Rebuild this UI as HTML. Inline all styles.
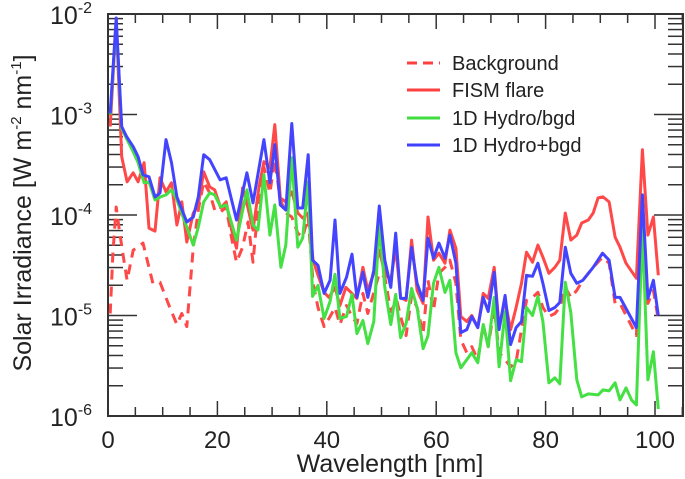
<!DOCTYPE html>
<html><head><meta charset="utf-8"><style>
html,body{margin:0;padding:0;background:#fff;}
svg{display:block;font-family:"Liberation Sans",sans-serif;}
</style></head><body>
<svg id="chart" width="685" height="479" viewBox="0 0 685 479" xmlns="http://www.w3.org/2000/svg">
<g id="axes"></g>
<g id="series"></g>
<text x="390" y="472" font-size="25" text-anchor="middle" fill="#222">Wavelength [nm]</text>
<text transform="translate(31,213) rotate(-90)" font-size="25" text-anchor="middle" fill="#222">Solar Irradiance [W m<tspan dy="-10" font-size="15">-2</tspan><tspan dy="10"> nm</tspan><tspan dy="-10" font-size="15">-1</tspan><tspan dy="10">]</tspan></text>
<g font-size="20" fill="#222">
<line x1="407" y1="63" x2="440" y2="63" stroke="#ff4040" stroke-width="3" stroke-dasharray="10,6"/>
<text x="452" y="70">Background</text>
<line x1="407" y1="90" x2="440" y2="90" stroke="#ff4040" stroke-width="3"/>
<text x="452" y="97">FISM flare</text>
<line x1="407" y1="118" x2="440" y2="118" stroke="#40dd40" stroke-width="3"/>
<text x="452" y="125">1D Hydro/bgd</text>
<line x1="407" y1="145" x2="440" y2="145" stroke="#4040ff" stroke-width="3"/>
<text x="452" y="152">1D Hydro+bgd</text>
</g>
</svg>
<script>
// wavelengths [nm] and log10 irradiance values
const bgWave=[0.4,0.9,1.5,2.0,2.7,3.5,4.6,6.4,8.2,9.5,11.3,12.6,13.5,14.4,15.6,16.5,17.5,18.6,19.5,20.6,21.6,22.6,23.5,24.6,25.6,26.5,27.6,28.5,29.6,30.5,31.5,32.5,33.6,34.7,35.6,36.6,37.5,38.4,39.5,40.6,41.5,42.4,43.6,44.6,45.5,46.6,47.5,48.6,49.6,50.6,51.7,52.8,53.5,54.5,55.5,56.5,57.6,58.5,59.5,60.5,61.6,62.5,63.6,64.5,65.6,66.5,67.6,68.6,69.5,70.6,71.5,72.6,73.6,74.6,75.6,76.5,77.6,78.6,79.5,80.6,81.7,82.6,83.6,84.6,85.7,86.8,88.7,90.4,91.6,92.7,93.6,96.6,97.7,98.7,99.7,100.6];
const bgLog=[-4.98,-4.38,-3.92,-4.12,-4.38,-4.65,-4.35,-4.28,-4.68,-4.67,-4.92,-5.09,-4.98,-5.11,-4.32,-3.95,-3.67,-3.78,-3.95,-3.97,-3.92,-4.23,-4.47,-4.32,-4.07,-4.47,-3.82,-3.52,-3.78,-3.45,-3.85,-3.98,-4.02,-4.18,-4.22,-4.02,-4.68,-4.92,-5.11,-5.01,-4.92,-5.09,-4.90,-5.01,-5.08,-4.78,-4.98,-4.77,-4.58,-4.62,-4.96,-4.85,-5.01,-5.20,-4.80,-4.92,-5.18,-4.65,-4.95,-4.58,-4.52,-4.45,-4.68,-5.24,-5.37,-5.31,-5.44,-5.09,-5.31,-4.92,-5.37,-5.44,-5.51,-5.46,-5.14,-4.85,-4.82,-4.77,-4.92,-5.01,-4.98,-4.92,-4.72,-4.82,-4.75,-4.65,-4.52,-4.42,-4.48,-4.88,-4.88,-5.20,-3.92,-4.88,-4.75,-5.04];
const fismWave=[0.4,1.5,2.5,3.5,4.6,5.5,6.6,7.5,8.6,9.5,10.6,11.6,12.6,13.5,14.4,15.6,16.5,17.5,18.6,19.5,20.6,21.6,22.6,23.5,24.6,25.6,26.5,27.6,28.5,29.6,30.5,31.5,32.5,33.6,34.7,35.6,36.6,37.5,38.4,39.5,40.4,41.5,42.4,43.5,44.6,45.5,46.6,47.5,48.6,49.6,50.6,51.7,52.6,53.5,54.5,55.5,56.5,57.6,58.5,59.5,60.5,61.6,62.5,63.6,64.5,65.6,66.5,67.6,68.6,69.5,70.6,71.5,72.6,73.6,74.6,75.6,76.5,77.6,78.6,79.5,80.6,81.7,82.6,83.6,84.6,85.7,86.6,87.8,88.7,89.6,90.5,91.6,92.7,93.6,94.7,96.6,97.7,98.7,99.7,100.6];
const fismLog=[-3.12,-2.06,-3.42,-3.67,-3.58,-3.67,-3.48,-4.13,-4.16,-3.63,-3.77,-3.68,-4.10,-3.87,-4.27,-3.98,-3.90,-3.57,-3.72,-3.75,-3.93,-3.87,-4.15,-4.33,-3.73,-3.93,-4.15,-3.72,-3.47,-3.53,-3.10,-3.83,-3.87,-3.77,-3.98,-4.03,-3.98,-4.45,-4.60,-4.77,-4.82,-4.72,-4.90,-4.72,-4.78,-4.83,-4.52,-4.75,-4.58,-4.35,-4.58,-4.65,-4.32,-4.82,-4.85,-4.25,-4.75,-4.88,-4.02,-4.45,-4.38,-4.48,-4.15,-4.33,-5.01,-5.06,-5.00,-5.12,-4.78,-4.83,-4.52,-5.12,-4.85,-5.14,-4.92,-4.68,-4.37,-4.47,-4.30,-4.42,-4.58,-4.52,-4.45,-3.98,-4.25,-4.20,-4.08,-4.05,-3.98,-3.83,-3.82,-3.87,-4.22,-4.32,-4.48,-4.63,-3.35,-4.20,-4.02,-4.60];
const ratioWave=[0.4,1.5,2.5,3.5,4.6,5.5,6.6,7.5,8.6,9.6,10.6,11.6,12.6,14.4,15.6,16.5,17.5,18.6,19.5,20.6,21.6,23.5,25.4,26.5,27.4,28.5,29.6,30.5,31.6,32.5,33.6,34.7,35.6,36.6,37.4,38.4,39.5,40.6,41.5,42.4,43.6,44.6,45.5,46.6,47.5,48.6,49.6,50.6,51.7,52.6,53.5,54.5,55.5,56.5,57.6,58.5,59.5,60.5,61.6,62.5,63.6,64.5,65.6,66.5,67.6,68.6,69.5,70.6,71.5,72.6,73.6,74.6,75.6,76.5,77.6,78.6,79.5,80.6,81.7,82.6,83.6,84.6,85.7,86.6,87.8,89.6,90.5,91.6,92.7,93.6,94.7,95.7,96.6,97.7,98.7,99.7,100.6];
const ratioLog=[-3.00,-2.09,-3.14,-3.25,-3.37,-3.48,-3.68,-3.67,-3.85,-3.82,-3.80,-3.75,-3.85,-4.12,-4.30,-4.12,-3.87,-3.78,-3.80,-3.92,-3.90,-4.25,-3.75,-4.10,-4.15,-3.60,-4.20,-3.90,-4.52,-4.30,-3.43,-4.32,-4.23,-3.67,-4.81,-4.70,-5.03,-4.86,-4.59,-5.03,-5.01,-4.79,-5.18,-5.05,-5.28,-5.06,-4.09,-4.72,-5.09,-4.79,-5.22,-5.08,-4.73,-4.92,-5.33,-5.20,-4.68,-4.52,-4.77,-4.65,-5.37,-5.52,-5.44,-5.37,-5.47,-5.09,-5.31,-4.82,-5.51,-4.96,-5.65,-5.44,-5.46,-4.92,-5.00,-4.81,-5.06,-5.67,-5.62,-5.68,-4.67,-4.97,-5.64,-5.81,-5.78,-5.79,-5.74,-5.75,-5.67,-5.84,-5.72,-5.84,-5.89,-4.12,-5.64,-5.36,-5.93];
const sumWave=[0.4,1.5,2.5,3.4,4.6,5.5,6.4,7.5,8.6,9.5,10.6,11.6,12.6,14.4,15.6,16.5,17.5,18.6,20.5,21.6,23.5,25.4,26.5,28.5,29.6,30.5,31.5,32.5,33.6,34.7,35.6,36.6,37.4,38.4,39.5,40.6,41.5,42.4,43.6,44.6,45.5,46.6,47.5,48.6,49.6,50.6,51.7,52.6,53.5,54.5,55.5,56.5,57.6,58.5,59.5,60.5,61.6,62.5,63.6,64.5,65.6,66.5,67.6,68.6,69.5,70.6,71.5,72.6,73.6,74.6,75.6,76.5,77.6,78.6,79.5,80.6,81.7,82.6,83.6,84.6,85.7,86.8,88.7,90.4,91.6,92.7,93.6,96.6,97.7,98.7,99.7,100.6];
const sumLog=[-2.99,-2.04,-3.12,-3.22,-3.32,-3.42,-3.60,-3.62,-3.82,-3.78,-3.25,-3.48,-3.82,-4.07,-4.02,-3.82,-3.40,-3.45,-3.65,-3.63,-4.05,-3.58,-3.88,-3.25,-3.68,-3.30,-3.90,-3.95,-3.09,-3.93,-3.93,-3.40,-4.45,-4.50,-4.78,-4.65,-4.05,-4.78,-4.62,-4.39,-4.82,-4.57,-4.82,-4.55,-3.91,-4.45,-4.72,-4.18,-4.83,-4.83,-4.32,-4.68,-4.85,-4.23,-4.43,-4.28,-4.43,-4.20,-4.48,-5.17,-5.14,-5.01,-5.12,-4.82,-4.96,-4.57,-5.14,-4.80,-5.29,-5.12,-5.06,-4.60,-4.61,-4.48,-4.68,-4.95,-4.92,-4.87,-4.32,-4.58,-4.68,-4.65,-4.52,-4.38,-4.45,-4.82,-4.82,-5.12,-3.80,-4.83,-4.65,-5.00];
const xTickLabels=[0,20,40,60,80,100];
const yExponents=[-2,-3,-4,-5,-6];

const L=108,R=683,T=14,B=416;
function xs(v){return 108+v*5.47;}
function ys(lg){return 14+(-2-lg)*100.5;}
const NS='http://www.w3.org/2000/svg';
const axes=document.getElementById('axes');
const series=document.getElementById('series');
function mk(tag,attrs,parent){const e=document.createElementNS(NS,tag);for(const k in attrs)e.setAttribute(k,attrs[k]);parent.appendChild(e);return e;}

const fr=mk('rect',{x:L,y:T,width:R-L,height:B-T,fill:'none',stroke:'#333','stroke-width':2},axes);



for(let v=0;v<=105;v+=5){
  const x=xs(v);if(x>R)break;
  const len=(v%20===0)?15:9;
  const t1=mk('line',{x1:x,y1:B,x2:x,y2:B-len,stroke:'#333','stroke-width':1.5},axes);
  
  
  const t2=mk('line',{x1:x,y1:T,x2:x,y2:T+len,stroke:'#333','stroke-width':1.5},axes);
  
  
}
xTickLabels.forEach(v=>{
  const t=mk('text',{x:xs(v),y:448,'font-size':24,'text-anchor':'middle',fill:'#222'},axes);
  t.textContent=String(v);
  
  
});
for(let d=-6;d<=-3;d++){
  for(let m=1;m<=9;m++){
    const lg=d+Math.log10(m);const y=ys(lg);
    const len=(m===1)?29:15;
    const a=mk('line',{x1:L,y1:y,x2:L+len,y2:y,stroke:'#333','stroke-width':1.5},axes);
    
    
    const b=mk('line',{x1:R,y1:y,x2:R-len,y2:y,stroke:'#333','stroke-width':1.5},axes);
    
    
  }
}
yExponents.forEach(e=>{
  const y=ys(e);
  const t=mk('text',{x:50,y:y+10,'font-size':25,fill:'#222'},axes);
  
  
  t.textContent='10';
  const s=mk('tspan',{dy:-11,'font-size':16},t);
  s.textContent=String(e);
});

function draw(wave,lg,color,dash,name){
  const pts=wave.map((w,i)=>xs(w).toFixed(1)+','+ys(lg[i]).toFixed(1)).join(' ');
  const p=mk('polyline',{points:pts,fill:'none',stroke:color,'stroke-width':3,'stroke-linejoin':'round'},series);
  if(dash)p.setAttribute('stroke-dasharray',dash);
  
  
}
draw(bgWave,bgLog,'#ff4848','10,7','background-line');
draw(fismWave,fismLog,'#ff4848',null,'fism-flare-line');
draw(ratioWave,ratioLog,'#44e044',null,'hydro-ratio-line');
draw(sumWave,sumLog,'#4444ff',null,'hydro-sum-line');
</script>
</body></html>
